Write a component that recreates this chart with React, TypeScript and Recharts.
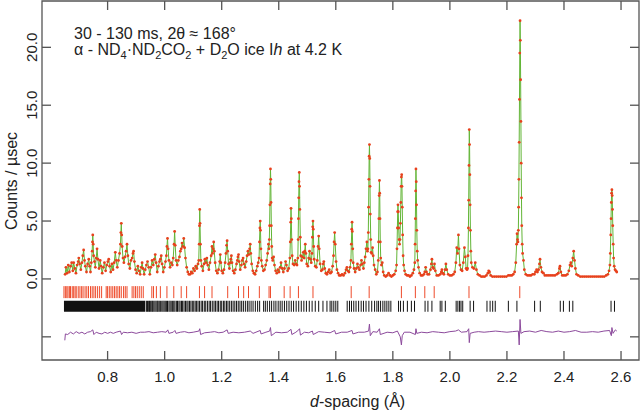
import React from 'react';
import {
  ComposedChart,
  Line,
  Scatter,
  XAxis,
  YAxis,
  ReferenceArea,
} from 'recharts';

const obsLow: [number, number][] = [
  [0.651,0.4],[0.654,1.0],[0.658,0.5],[0.662,1.2],[0.666,0.6],[0.670,1.1],[0.674,1.4],[0.678,0.7],[0.681,1.4],[0.685,0.9],[0.689,0.5],[0.693,1.2],[0.697,1.5],[0.699,1.8],[0.702,1.3],[0.706,0.8],[0.710,1.4],[0.713,2.0],[0.716,2.5],[0.719,1.6],[0.722,1.1],[0.726,0.6],[0.730,1.3],[0.734,1.7],[0.737,1.1],[0.740,0.6],[0.743,1.4],[0.746,2.4],[0.747,3.2],[0.748,3.8],[0.7495,3.0],[0.751,2.0],[0.754,1.5],[0.757,1.0],[0.760,1.8],[0.763,2.6],[0.766,1.7],[0.770,0.9],[0.774,1.6],[0.777,1.1],[0.781,0.5],[0.785,1.0],[0.789,1.4],[0.793,0.7],[0.797,1.2],[0.801,1.5],[0.804,1.7],[0.807,1.1],[0.811,0.6],[0.815,1.3],[0.819,0.8],[0.823,1.4],[0.827,2.3],[0.830,1.6],[0.834,1.0],[0.838,1.6],[0.842,2.2],[0.845,3.0],[0.8465,4.0],[0.848,4.8],[0.8495,3.8],[0.851,2.8],[0.854,1.8],[0.857,1.4],[0.861,1.9],[0.865,2.4],[0.868,3.0],[0.871,2.0],[0.874,1.3],[0.878,0.9],[0.882,1.6],[0.886,1.8],[0.889,2.2],[0.891,2.4],[0.894,1.5],[0.898,0.8],[0.902,0.5],[0.906,1.1],[0.910,0.7],[0.914,0.4],[0.918,1.0],[0.921,1.4],[0.924,0.9],[0.928,0.4],[0.932,0.8],
  [0.936,1.2],[0.940,1.5],[0.944,1.0],[0.948,0.4],[0.952,1.0],[0.956,1.6],[0.960,1.2],[0.964,1.7],[0.967,2.1],[0.970,1.4],[0.974,0.6],[0.978,1.1],[0.982,1.5],[0.985,1.7],[0.988,2.0],[0.991,1.3],[0.995,0.6],[0.999,1.0],[1.003,1.5],[1.006,2.0],[1.008,2.8],[1.010,3.5],[1.012,2.6],[1.015,1.6],[1.019,1.0],[1.023,1.4],[1.027,1.2],[1.030,1.8],[1.033,3.0],[1.035,4.1],[1.037,2.9],[1.040,1.6],[1.044,1.2],[1.048,1.6],[1.052,1.9],[1.055,2.4],[1.058,2.6],[1.061,3.1],[1.064,2.8],[1.067,3.5],[1.070,2.7],[1.073,1.8],[1.077,1.0],[1.081,0.6],[1.085,0.4],[1.089,0.4],[1.093,0.6],[1.097,0.5],[1.101,0.9],[1.105,0.7],[1.109,1.1],[1.113,0.9],[1.117,1.3],[1.1195,1.6],[1.121,3.0],[1.122,4.6],[1.123,6.0],[1.124,4.8],[1.1255,3.0],[1.127,1.6],[1.130,1.1],[1.134,0.7],[1.138,1.3],[1.141,1.7],[1.145,1.4],[1.148,1.8],[1.151,1.2],[1.155,0.8],[1.159,1.4],[1.163,2.0],[1.166,2.8],[1.168,2.2],[1.170,2.6],[1.172,3.2],[1.174,2.4],[1.177,1.4],[1.181,0.7],[1.185,0.5],[1.189,0.8],[1.193,1.5],[1.195,2.1],[1.197,1.4],
];

const obsMid: [number, number][] = [
  [1.200,0.7],[1.204,0.5],[1.208,0.8],[1.212,1.4],[1.215,2.2],[1.217,2.9],[1.219,3.3],[1.221,2.4],[1.224,1.3],[1.227,0.9],[1.230,1.4],[1.232,1.7],[1.234,2.0],[1.236,1.4],[1.240,0.7],[1.244,0.5],[1.248,0.8],[1.252,1.3],[1.255,1.6],[1.257,1.9],[1.259,2.1],[1.261,1.5],[1.265,0.8],[1.269,1.2],[1.272,1.6],[1.275,1.8],[1.278,1.3],[1.282,1.0],[1.286,1.5],[1.289,2.0],[1.292,2.4],[1.295,2.1],[1.298,2.6],[1.300,3.0],[1.302,2.2],[1.305,1.3],[1.309,0.7],[1.313,0.5],[1.317,0.4],[1.321,0.7],[1.325,1.1],[1.328,1.4],[1.331,1.8],[1.3325,3.2],[1.334,4.4],[1.335,5.0],[1.336,4.2],[1.3375,2.6],[1.339,1.6],[1.342,1.1],[1.346,0.7],[1.350,0.8],[1.354,1.2],[1.358,1.6],[1.361,2.2],[1.364,3.0],[1.3655,2.6],[1.367,3.4],[1.368,4.6],[1.369,6.4],[1.370,8.2],[1.371,9.5],[1.372,8.6],[1.373,6.6],[1.374,4.6],[1.3755,2.8],[1.377,1.8],[1.379,1.6],[1.382,1.9],[1.385,1.2],[1.389,0.7],[1.393,0.5],[1.397,0.8],[1.401,0.6],[1.405,1.0],[1.408,1.4],[1.412,0.9],[1.416,0.6],[1.420,0.9],[1.424,1.5],[1.427,1.2],[1.431,0.7],[1.435,0.9],[1.439,1.8],[1.4405,3.2],[1.442,4.9],[1.443,6.1],[1.444,5.2],[1.4455,3.4],[1.447,2.0],[1.450,1.3],[1.454,1.2],[1.458,1.6],[1.461,1.3],[1.464,1.2],[1.467,1.8],[1.468,3.4],[1.469,5.2],[1.470,7.0],[1.471,8.4],[1.472,9.2],[1.473,8.0],[1.474,6.0],[1.4755,3.6],[1.477,2.0],[1.480,1.6],[1.483,1.9],[1.486,2.3],[1.489,1.8],[1.491,2.4],[1.493,3.0],[1.495,2.2],[1.498,1.3],[1.502,1.1],[1.505,1.8],[1.508,2.4],[1.511,1.7],[1.514,1.4],[1.5165,2.2],[1.518,3.6],[1.519,4.5],[1.520,5.0],[1.521,4.3],[1.5225,2.8],[1.524,1.7],[1.528,1.1],[1.532,1.0],[1.535,1.6],[1.538,2.8],[1.540,3.7],[1.542,2.6],[1.545,1.3],[1.549,0.7],[1.553,0.8],[1.556,1.3],[1.558,1.5],[1.561,0.9],[1.565,0.5],[1.569,0.4],[1.573,0.6],[1.577,0.8],[1.581,0.5],[1.585,0.6],[1.589,1.1],[1.592,2.0],[1.594,3.2],[1.596,4.0],[1.598,3.0],[1.601,1.5],[1.604,0.8],[1.608,0.5],[1.612,0.3],[1.617,0.3],[1.622,0.4],[1.627,0.3],[1.632,0.5],[1.636,0.8],[1.639,1.0],[1.642,0.7],[1.646,0.6],[1.650,1.0],[1.653,1.6],[1.6545,3.0],[1.656,4.3],[1.657,4.9],[1.658,4.1],[1.6595,2.6],[1.661,1.4],[1.664,0.9],[1.668,0.6],[1.672,0.9],[1.676,1.3],[1.679,1.0],[1.683,0.8],[1.687,1.2],[1.690,1.6],[1.693,1.3],[1.697,0.9],[1.700,1.4],[1.703,1.9],[1.706,2.6],[1.709,3.2],[1.711,2.4],[1.7125,2.6],[1.714,4.0],[1.715,6.2],[1.716,8.6],[1.717,10.6],[1.718,11.6],[1.719,10.4],[1.720,8.0],[1.721,5.6],[1.7225,3.4],[1.724,2.3],[1.726,2.2],[1.729,2.7],[1.731,2.0],[1.734,1.2],[1.738,0.8],
];

const obsHigh: [number, number][] = [
  [1.742,0.4],[1.746,0.6],[1.749,1.6],[1.750,3.2],[1.751,5.2],[1.752,7.2],[1.753,8.5],[1.754,7.4],[1.755,5.2],[1.756,3.2],[1.7575,1.8],[1.760,1.2],[1.763,1.4],[1.766,0.6],[1.770,0.3],[1.775,0.2],[1.780,0.3],[1.785,0.5],[1.790,0.3],[1.795,0.2],[1.800,0.3],[1.805,0.4],[1.810,0.7],[1.813,1.2],[1.8145,2.6],[1.816,4.4],[1.817,5.8],[1.818,6.4],[1.819,5.8],[1.8205,4.4],[1.822,3.4],[1.8235,3.0],[1.825,3.4],[1.8265,4.8],[1.828,6.6],[1.829,8.0],[1.830,8.8],[1.831,9.0],[1.832,8.0],[1.833,6.2],[1.8345,3.8],[1.836,2.0],[1.838,1.2],[1.841,0.7],[1.845,0.4],[1.850,0.3],[1.855,0.3],[1.860,0.2],[1.865,0.3],[1.870,0.5],[1.874,0.8],[1.877,1.4],[1.878,3.0],[1.879,5.2],[1.880,7.6],[1.881,9.5],[1.882,8.4],[1.883,6.4],[1.884,4.2],[1.8855,2.4],[1.887,1.6],[1.890,1.0],[1.894,0.5],[1.899,0.3],[1.904,0.3],[1.909,0.4],[1.912,0.6],[1.915,1.0],[1.918,0.6],[1.922,0.4],[1.927,0.4],[1.932,0.8],[1.935,1.3],[1.937,1.7],[1.940,1.0],[1.943,0.9],[1.946,1.3],[1.949,0.7],[1.954,0.3],[1.960,0.3],[1.966,0.4],[1.970,0.6],[1.972,0.8],[1.975,0.5],[1.979,0.4],[1.983,0.8],[1.986,1.3],[1.989,0.8],[1.994,0.4],[2.000,0.3],[2.006,0.3],[2.012,0.4],[2.017,0.6],[2.021,1.4],[2.024,2.7],[2.027,2.2],[2.030,3.8],[2.032,2.6],[2.035,1.2],[2.039,0.8],[2.043,0.7],[2.047,1.4],[2.051,2.7],[2.054,1.9],[2.057,0.9],[2.060,0.8],[2.062,0.9],[2.0635,2.0],[2.065,4.4],[2.066,6.8],[2.067,9.8],[2.068,12.9],[2.069,11.6],[2.070,9.0],[2.071,6.4],[2.072,4.2],[2.0735,2.4],[2.075,1.4],[2.079,1.0],[2.084,0.9],[2.089,1.4],[2.093,0.8],[2.098,0.4],[2.104,0.3],[2.110,0.2],[2.116,0.2],[2.122,0.2],[2.128,0.3],[2.133,0.5],[2.136,0.7],[2.139,0.6],[2.143,0.3],[2.149,0.2],[2.156,0.2],[2.163,0.2],[2.170,0.2],[2.177,0.2],[2.184,0.2],[2.191,0.2],[2.198,0.2],[2.205,0.3],[2.211,0.3],[2.217,0.3],[2.222,0.4],[2.227,0.6],[2.231,1.4],[2.234,3.0],[2.2355,3.9],[2.237,3.4],[2.2385,3.2],[2.240,4.2],[2.241,6.2],[2.242,8.6],[2.243,11.8],[2.244,15.5],[2.245,19.5],[2.246,22.3],[2.247,20.6],[2.248,17.2],[2.249,13.6],[2.250,10.0],[2.251,7.0],[2.252,4.6],[2.2535,3.0],[2.255,2.2],[2.258,1.6],[2.261,0.8],[2.266,0.4],[2.272,0.3],[2.278,0.3],[2.284,0.3],[2.290,0.4],[2.296,0.4],[2.300,0.6],[2.304,0.8],[2.307,0.6],[2.311,0.8],[2.314,1.3],[2.316,1.7],[2.319,1.0],[2.323,0.6],[2.328,0.5],[2.333,0.3],[2.340,0.3],[2.347,0.3],[2.354,0.3],[2.361,0.3],[2.368,0.3],[2.375,0.4],[2.380,0.5],[2.384,0.9],[2.386,1.1],[2.389,0.6],[2.394,0.3],[2.400,0.3],[2.406,0.3],[2.412,0.4],[2.417,0.7],[2.421,1.2],[2.424,1.4],[2.427,1.1],[2.431,1.8],[2.434,2.4],[2.437,1.6],[2.440,0.9],[2.444,0.4],[2.450,0.3],[2.457,0.2],[2.464,0.2],[2.471,0.2],[2.478,0.2],[2.485,0.2],[2.492,0.2],[2.499,0.2],[2.506,0.2],[2.513,0.2],[2.520,0.2],[2.527,0.2],[2.534,0.2],[2.541,0.2],[2.548,0.3],[2.554,0.4],[2.558,0.7],[2.561,1.2],[2.5625,2.2],[2.564,3.8],[2.565,5.2],[2.566,6.6],[2.567,7.4],[2.568,7.7],[2.569,7.2],[2.570,6.0],[2.571,4.6],[2.5725,3.0],[2.574,1.8],[2.576,1.1],[2.579,0.8],[2.582,0.7],[2.585,0.6],
];

// obs - calc, shown offset below the ticks
const difference: [number, number][] = [
  [0.650,-5.3],[0.652,-4.75],[0.660,-4.8],[0.670,-4.6],[0.680,-4.75],[0.690,-4.55],[0.700,-4.7],[0.710,-4.6],[0.720,-4.75],[0.730,-4.6],[0.740,-4.55],[0.748,-4.4],[0.752,-4.8],[0.760,-4.6],[0.770,-4.7],[0.780,-4.75],[0.790,-4.6],[0.800,-4.7],[0.810,-4.6],[0.820,-4.7],[0.830,-4.6],[0.845,-4.5],[0.849,-4.8],[0.855,-4.6],[0.870,-4.65],[0.885,-4.6],[0.900,-4.7],[0.915,-4.6],[0.930,-4.6],[0.945,-4.55],[0.960,-4.65],[0.975,-4.6],[0.990,-4.55],[1.005,-4.6],[1.011,-4.4],[1.015,-4.7],[1.030,-4.6],[1.036,-4.45],[1.040,-4.7],[1.055,-4.6],[1.070,-4.55],[1.085,-4.65],[1.100,-4.6],[1.120,-4.5],[1.123,-4.3],[1.126,-4.8],[1.140,-4.65],[1.160,-4.6],[1.175,-4.55],[1.190,-4.65],[1.205,-4.6],[1.219,-4.4],[1.223,-4.7],[1.240,-4.6],[1.260,-4.65],[1.280,-4.6],[1.300,-4.5],[1.310,-4.7],[1.335,-4.45],[1.338,-4.75],[1.355,-4.6],[1.368,-4.5],[1.371,-4.2],[1.374,-4.9],[1.390,-4.6],[1.410,-4.65],[1.430,-4.6],[1.443,-4.35],[1.446,-4.8],[1.460,-4.6],[1.470,-4.4],[1.473,-4.3],[1.476,-4.85],[1.490,-4.6],[1.505,-4.65],[1.518,-4.5],[1.521,-4.8],[1.540,-4.55],[1.560,-4.6],[1.580,-4.65],[1.596,-4.45],[1.600,-4.75],[1.620,-4.6],[1.640,-4.6],[1.657,-4.45],[1.660,-4.75],[1.680,-4.6],[1.700,-4.6],[1.715,-4.5],[1.718,-3.9],[1.721,-4.9],[1.730,-4.55],[1.745,-4.6],[1.753,-4.3],[1.756,-4.8],[1.780,-4.6],[1.800,-4.65],[1.816,-4.5],[1.826,-5.0],[1.830,-5.7],[1.833,-4.9],[1.840,-4.6],[1.860,-4.6],[1.879,-4.8],[1.881,-4.3],[1.884,-4.7],[1.900,-4.6],[1.920,-4.65],[1.940,-4.55],[1.960,-4.6],[1.980,-4.65],[2.000,-4.55],[2.020,-4.5],[2.030,-4.4],[2.040,-4.6],[2.060,-4.55],[2.066,-4.3],[2.068,-5.5],[2.071,-4.7],[2.085,-4.6],[2.100,-4.55],[2.120,-4.6],[2.140,-4.55],[2.160,-4.5],[2.180,-4.55],[2.200,-4.6],[2.220,-4.55],[2.240,-4.5],[2.243,-5.7],[2.246,-3.5],[2.249,-4.7],[2.260,-4.55],[2.280,-4.5],[2.300,-4.6],[2.320,-4.45],[2.340,-4.55],[2.360,-4.6],[2.380,-4.5],[2.400,-4.6],[2.420,-4.55],[2.440,-4.45],[2.460,-4.6],[2.480,-4.6],[2.500,-4.55],[2.520,-4.6],[2.540,-4.5],[2.560,-4.45],[2.566,-4.9],[2.568,-4.2],[2.572,-4.7],[2.580,-4.4],[2.585,-4.5],
];

// D2O ice Ih reflection positions
const iceTicks = [
  0.647,0.652,0.657,0.661,0.666,0.670,0.676,0.681,0.686,0.690,0.697,0.703,0.709,0.714,0.721,0.727,0.733,0.740,0.746,0.752,0.758,0.765,0.772,0.779,
  0.795,0.800,0.806,0.812,0.818,0.824,0.830,0.836,0.842,0.848,0.856,0.862,0.868,
  0.886,0.892,0.898,0.904,0.911,0.918,0.925,0.955,0.961,0.971,
  0.985,1.008,1.032,1.058,1.077,1.122,1.140,1.166,
  1.221,1.259,1.277,1.294,1.332,1.366,1.371,1.419,1.440,1.469,1.520,1.654,1.717,1.830,1.879,1.912,1.945,2.067,2.245,
];

// ammonium carbamate reflections (below 0.932 they merge into a solid band)
const carbBand = [0.647, 0.932];
const carbTicks = [
  0.936,0.940,0.944,0.947,0.951,0.955,0.958,0.962,0.966,0.970,0.974,0.977,0.981,0.985,0.990,0.994,0.998,1.002,1.006,1.010,1.015,1.019,1.023,1.028,1.032,1.036,1.041,1.045,1.050,1.054,1.059,1.063,1.068,1.073,1.078,1.082,1.087,1.092,1.097,1.102,1.107,1.112,1.117,1.122,1.128,1.133,1.139,1.144,1.150,1.156,1.161,1.167,1.173,1.178,
  1.184,1.189,1.195,1.200,1.206,1.211,1.217,1.222,1.228,1.234,1.240,1.246,1.252,1.258,1.264,1.270,1.276,1.283,1.290,1.296,1.303,1.310,1.318,1.326,1.333,
  1.347,1.353,1.360,1.368,1.375,1.383,1.390,1.398,1.405,1.412,1.420,1.428,1.436,1.444,1.452,1.461,1.470,1.479,1.488,1.497,1.507,1.517,1.528,
  1.540,1.555,1.569,1.580,1.586,1.593,1.600,1.607,
  1.640,1.648,1.655,1.663,1.671,1.680,1.689,1.697,1.706,1.716,1.726,1.736,1.744,1.750,1.757,1.765,1.772,1.779,1.786,1.793,
  1.820,1.827,1.837,1.851,1.865,1.876,1.913,1.923,1.937,1.966,1.972,1.984,2.022,2.028,2.034,2.039,2.045,2.071,2.083,
  2.130,2.141,2.150,2.159,2.205,2.235,2.297,2.317,2.387,2.398,2.419,2.431,2.565,2.577,
];

const xTicks = [0.8, 1.0, 1.2, 1.4, 1.6, 1.8, 2.0, 2.2, 2.4, 2.6];
const yTicks = [-5, 0, 5, 10, 15, 20];
const xDomain = [0.57, 2.663];
const yDomain = [-7, 24];

const ICE_ROW = -1.14;
const CARB_ROW = -2.36;

const observed = [...obsLow, ...obsMid, ...obsHigh].map(([d, v]) => ({ d, v }));
const diffData = difference.map(([d, v]) => ({ d, v }));
const iceData = iceTicks.map((d) => ({ d, v: ICE_ROW }));
const carbData = carbTicks.map((d) => ({ d, v: CARB_ROW }));

// inward frame ticks on all four sides
const bottomTicks = xTicks.map((d) => ({ d, v: yDomain[0] }));
const topTicks = xTicks.map((d) => ({ d, v: yDomain[1] }));
const leftTicks = yTicks.map((v) => ({ d: xDomain[0], v }));
const rightTicks = yTicks.map((v) => ({ d: xDomain[1], v }));

const FONT = '"Liberation Sans", Arial, sans-serif';
const AXIS = '#555';
const TEXT = '#222';
const TICK_LEN = 9;

const Dot = (p: any) => <circle cx={p.cx} cy={p.cy} r={1.4} fill="#e8401c" />;
const IceTick = (p: any) => (
  <line x1={p.cx} x2={p.cx} y1={p.cy - 6} y2={p.cy + 6} stroke="#ee4a2a" strokeWidth={1} />
);
const CarbTick = (p: any) => (
  <line x1={p.cx} x2={p.cx} y1={p.cy - 5.5} y2={p.cy + 5.5} stroke="#111" strokeWidth={1} />
);
const frameTick = (dx: number, dy: number) => (p: any) => (
  <line x1={p.cx} y1={p.cy} x2={p.cx + dx} y2={p.cy + dy} stroke={AXIS} strokeWidth={1.3} />
);

const XTick = ({ x, payload }: any) => (
  <text x={x} y={382} textAnchor="middle" fontSize={15} fill={TEXT} fontFamily={FONT}>
    {payload.value.toFixed(1)}
  </text>
);

const YTick = ({ y, payload }: any) =>
  payload.value === -5 ? null : (
    <text
      x={37.5}
      y={y}
      transform={`rotate(-90 37.5 ${y})`}
      textAnchor="middle"
      fontSize={15}
      fill={TEXT}
      fontFamily={FONT}
    >
      {payload.value.toFixed(1)}
    </text>
  );

const sub = (t: string) => (
  <span style={{ fontSize: 11, position: 'relative', top: 4 }}>{t}</span>
);

export default function App() {
  return (
    <div style={{ position: 'absolute', left: 0, top: 0, width: 640, height: 411, background: '#fff', fontFamily: FONT, color: TEXT }}>
      <ComposedChart width={640} height={411} margin={{ top: 1, right: 1, bottom: 0, left: 0 }}>
        <XAxis
          dataKey="d"
          type="number"
          domain={xDomain}
          allowDataOverflow
          ticks={xTicks}
          height={51}
          tick={<XTick />}
          axisLine={false}
          tickLine={false}
        />
        <YAxis
          type="number"
          domain={yDomain}
          allowDataOverflow
          ticks={yTicks}
          width={42}
          tick={<YTick />}
          axisLine={false}
          tickLine={false}
        />
        <ReferenceArea
          x1={xDomain[0]}
          x2={xDomain[1]}
          y1={yDomain[0]}
          y2={yDomain[1]}
          fill="none"
          stroke={AXIS}
          strokeWidth={1.3}
        />
        <ReferenceArea
          x1={carbBand[0]}
          x2={carbBand[1]}
          y1={CARB_ROW - 0.47}
          y2={CARB_ROW + 0.47}
          fill="#111"
          fillOpacity={1}
          stroke="none"
        />
        <Scatter data={bottomTicks} dataKey="v" shape={frameTick(0, -TICK_LEN)} isAnimationActive={false} />
        <Scatter data={topTicks} dataKey="v" shape={frameTick(0, TICK_LEN)} isAnimationActive={false} />
        <Scatter data={leftTicks} dataKey="v" shape={frameTick(TICK_LEN, 0)} isAnimationActive={false} />
        <Scatter data={rightTicks} dataKey="v" shape={frameTick(-TICK_LEN, 0)} isAnimationActive={false} />
        <Scatter data={iceData} dataKey="v" shape={IceTick} isAnimationActive={false} />
        <Scatter data={carbData} dataKey="v" shape={CarbTick} isAnimationActive={false} />
        <Scatter data={observed} dataKey="v" shape={Dot} isAnimationActive={false} />
        <Line
          data={observed}
          dataKey="v"
          type="linear"
          stroke="#62b536"
          strokeWidth={1}
          dot={false}
          isAnimationActive={false}
        />
        <Line
          data={diffData}
          dataKey="v"
          type="linear"
          stroke="#8c4a9c"
          strokeWidth={1}
          dot={false}
          isAnimationActive={false}
        />
      </ComposedChart>

      <div style={{ position: 'absolute', left: 74, top: 25.5, fontSize: 16, lineHeight: '16px', whiteSpace: 'nowrap' }}>
        30 - 130 ms, 2θ ≈ 168°
      </div>
      <div style={{ position: 'absolute', left: 74, top: 41.5, fontSize: 16, lineHeight: '16px', whiteSpace: 'nowrap' }}>
        α - ND{sub('4')}·ND{sub('2')}CO{sub('2')} + D{sub('2')}O ice I<i>h</i> at 4.2 K
      </div>
      <div
        style={{
          position: 'absolute',
          left: 12 - 100,
          top: 181 - 9,
          width: 200,
          height: 18,
          lineHeight: '18px',
          fontSize: 16,
          textAlign: 'center',
          transform: 'rotate(-90deg)',
          whiteSpace: 'nowrap',
        }}
      >
        Counts / µsec
      </div>
      <div style={{ position: 'absolute', left: 310, top: 393.5, fontSize: 16, lineHeight: '16px', whiteSpace: 'nowrap' }}>
        <i>d</i>-spacing (Å)
      </div>
    </div>
  );
}
